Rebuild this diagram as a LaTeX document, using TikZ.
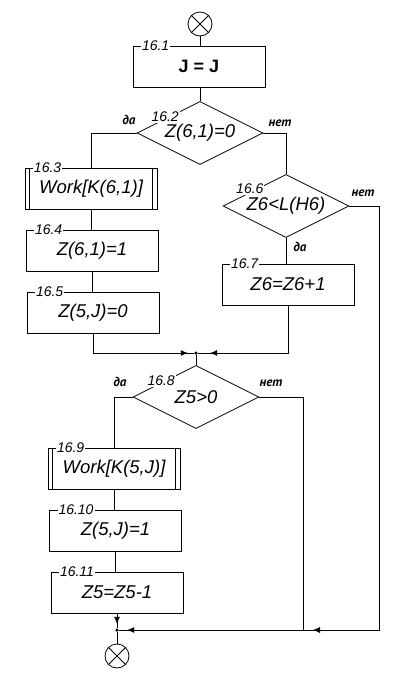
\documentclass[tikz,border=0pt]{standalone}
\usepackage{fontspec}
\setmainfont{Liberation Sans}
\newfontfamily\ptsans{PT Sans}
\usetikzlibrary{shapes.geometric,decorations.markings,arrows.meta,calc}

\tikzset{
    blok/.style={draw, minimum width=132pt, minimum height=41pt, inner sep=0pt,
            font=\fontsize{18.5}{18.5}\selectfont\itshape},
    romb/.style={draw, diamond, aspect=2, minimum width=126pt, minimum height=63pt,
            inner sep=0pt, font=\fontsize{18.5}{18.5}\selectfont\itshape},
    nomer/.style={fill=white, inner sep=1pt, font=\fontsize{14}{14}\selectfont\itshape},
    otvet/.style={inner sep=0pt, font=\ptsans\fontsize{13}{13}\selectfont\bfseries\itshape},
    tochka/.style={circle, fill, inner sep=0pt, minimum size=3.5pt},
    krug/.style={draw, circle, minimum size=24pt, inner sep=0pt},
    strelka/.style={postaction={decorate}, decoration={markings,
            mark=at position #1 with {\arrow{Latex[length=7pt,width=6pt]}}}}
}

\begin{document}
\begin{tikzpicture}[x=1pt, y=-1pt, line width=0.8pt]
        \useasboundingbox (0,0) rectangle (413,675);
        % begin and end
        \node[krug] (s) at (200,24) {};
        \node[krug] (e) at (117,656) {};
        \foreach \k in {s, e} {
                \draw (\k.north west) -- (\k.south east);
                \draw (\k.north east) -- (\k.south west);
            }
        % blocks
        \node[blok, font=\fontsize{18}{18}\selectfont\bfseries] (b1) at (199,66.5) {J = J};
        \node[nomer, anchor=west] (n1) at ([xshift=8pt]b1.north west) {16.1};
        \foreach \n/\x/\y/\t in {3/91/188.5/{Work[K(6,1)]}, 4/92/250.5/{Z(6,1)=1},
                5/93/312.5/{Z(5,J)=0}, 7/288/284.5/{Z6=Z6+1}, 9/114/468.5/{Work[K(5,J)]},
                10/115.5/530.5/{Z(5,J)=1}, 11/117/592.5/{Z5=Z5-1}} {
                \node[blok] (b\n) at (\x,\y) {\raisebox{-2pt}{\t}};
                \node[nomer, anchor=west] (n\n) at ([xshift=8pt]b\n.north west) {16.\n};
            }
        \foreach \n in {3, 9} {
                \draw ([xshift=5pt]b\n.north west) -- ([xshift=5pt]b\n.south west);
                \draw ([xshift=-5pt]b\n.north east) -- ([xshift=-5pt]b\n.south east);
            }
        % conditions
        \foreach \n/\x/\y/\f/\h/\t in {2/200/133/0.45/1.5/{Z(6,1)=0}, 6/286/206/0.43/3.5/{Z6<L(H6)},
                8/196/397/0.45/1.5/{Z5>0}} {
                \node[romb] (d\n) at (\x,\y) {\raisebox{-1.5pt}{\t}};
                \node[nomer, yshift=\h pt] (n\n) at ($(d\n.west)!\f!(d\n.north)$) {16.\n};
            }
        \node[otvet] (da2) at (129,120) {да};
        \node[otvet] (net2) at (280,123) {нет};
        \node[otvet] (da6) at (300,247) {да};
        \node[otvet] (net6) at (363,193) {нет};
        \node[otvet] (da8) at (120,382) {да};
        \node[otvet] (net8) at (271,383) {нет};
        % joints
        \node[tochka] (m1) at (196,353) {};
        \node[tochka] (m2) at (117,630) {};
        \coordinate (r1) at (379,630);
        \coordinate (j2) at (303,630);
        % lines
        \draw (s.south) -- (s.south |- b1.north);
        \draw (d2.north |- b1.south) -- (d2.north);
        \draw (d2.west) -| (b3.north);
        \draw (b3.south) -- (b3.south |- b4.north);
        \draw (b4.south) -- (b4.south |- b5.north);
        \draw[strelka=-6pt] (b5.south) |- (m1);
        \draw (d2.east) -| (d6.north);
        \draw (d6.south) -- (d6.south |- b7.north);
        \draw[strelka=-12pt] (b7.south) |- (m1);
        \draw (m1) -- (d8.north);
        \draw (d8.west) -| (b9.north);
        \draw (b9.south) -- (b9.south |- b10.north);
        \draw (b10.south) -- (b10.south |- b11.north);
        \draw[strelka=-4pt] (b11.south) -- (m2);
        \draw[strelka=-10pt] (d6.east) -| (r1) -- (j2);
        \draw (d8.east) -| (j2);
        \draw[strelka=-8pt] (j2) -- (m2);
        \draw (m2) -- (e);
    \end{tikzpicture}
\end{document}
